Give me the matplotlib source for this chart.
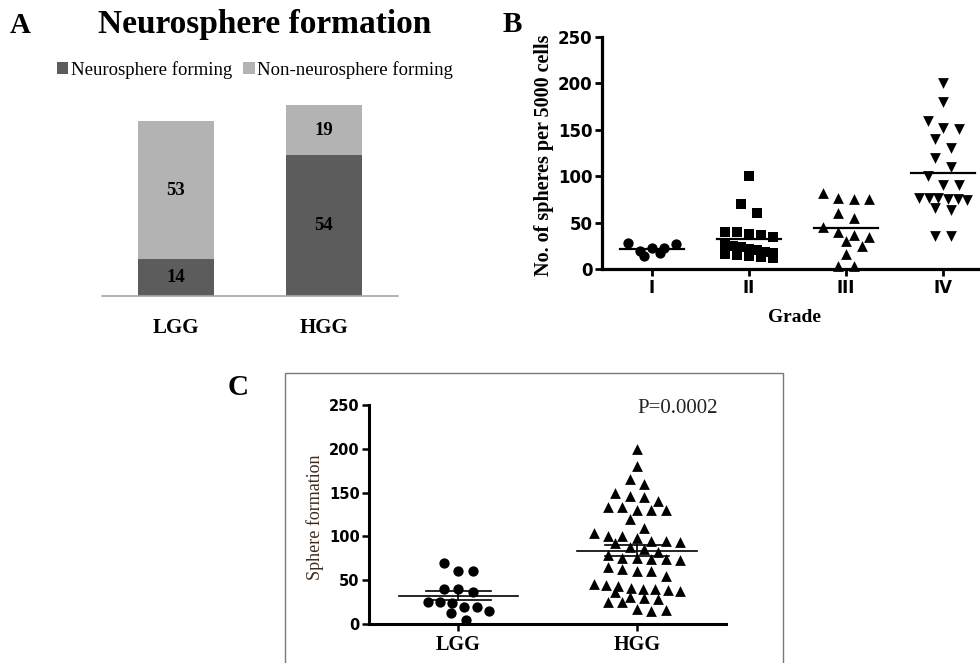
import numpy as np
import matplotlib
matplotlib.use("Agg")
import matplotlib.pyplot as plt
from matplotlib.patches import Rectangle

# ---- data ----
groups = ["LGG", "HGG"]
forming = [14, 54]
non_forming = [53, 19]

grade_labels = ["I", "II", "III", "IV"]
grade_i = [28, 19, 23, 14, 23, 17, 27]
grade_ii = [100, 70, 60, 40, 40, 38, 37, 35, 27, 25, 24, 22, 20, 18, 17, 16, 15, 14, 13, 12]
grade_iii = [82, 76, 75, 75, 60, 55, 45, 40, 37, 35, 30, 25, 16, 3, 3]
grade_iv = [200, 180, 160, 152, 151, 140, 130, 120, 110, 100, 90, 90,
            77, 76, 76, 75, 75, 74, 66, 64, 36, 36]

lgg_spheres = [70, 60, 60, 40, 40, 37, 25, 25, 24, 19, 19, 15, 12, 5]
hgg_spheres = [200, 180, 165, 160, 150, 146, 145, 140, 133, 133, 130, 130, 130, 120,
               110, 104, 100, 100, 98, 95, 95, 94, 92, 88, 86, 82, 79, 75, 75, 74,
               74, 73, 65, 63, 60, 60, 55, 46, 44, 43, 41, 40, 40, 39, 38, 37, 31,
               30, 29, 25, 25, 17, 15, 16]

SERIF = "Liberation Serif"
SANS = "DejaVu Sans"
W, H = 980, 663


def fx(x):
    return x / W


def fy(y):
    return 1 - y / H


def column_scatter(values, full, ppx, ppy, bin_px, maxw, rx, ry, max_row=8):
    """prism-like column scatter: values grouped in rows, rows shifted to avoid overlap"""
    vals = np.asarray(values, dtype=float)
    order = sorted(range(len(vals)), key=lambda k: -vals[k])
    rows = []
    for k in order:
        if rows and vals[rows[-1][0]] - vals[k] < bin_px / ppy and len(rows[-1]) < max_row:
            rows[-1].append(k)
        else:
            rows.append([k])
    offs = np.zeros(len(vals))
    placed = []
    for row in rows:
        row = sorted(row)
        n = len(row)
        sp = full if n == 1 else min(full, maxw / (n - 1))
        base = (np.arange(n) - (n - 1) / 2) * sp
        best = base
        for shift in [0, full / 2, -full / 2, full, -full, 1.5 * full, -1.5 * full]:
            xs = base + shift
            ok = all(((x - px) / rx) ** 2 + ((vals[j] * ppy - py) / ry) ** 2 >= 1
                     for x, j in zip(xs, row) for px, py in placed)
            if ok:
                best = xs
                break
        for x, j in zip(best, row):
            placed.append((x, vals[j] * ppy))
            offs[j] = x / ppx
    return offs


fig = plt.figure(figsize=(9.8, 6.63), dpi=100)

# ---------------- panel A ----------------
axA = fig.add_axes([fx(102), fy(296), fx(296), 196 / H])
xa = np.arange(len(groups))
b1 = axA.bar(xa, forming, width=0.51, color="#5c5c5c", label="Neurosphere forming")
b2 = axA.bar(xa, non_forming, width=0.51, bottom=forming, color="#b3b3b3",
             label="Non-neurosphere forming")
axA.bar_label(b1, label_type="center", fontfamily=SERIF, fontweight="bold", fontsize=13.5)
axA.bar_label(b2, label_type="center", fontfamily=SERIF, fontweight="bold", fontsize=13.5)
axA.set_xlim(-0.5, 1.5)
axA.set_ylim(0, 75.1)
axA.set_xticks(xa)
axA.set_xticklabels(groups, fontfamily=SERIF, fontweight="bold", fontsize=15)
axA.tick_params(axis="x", length=0, pad=16)
axA.set_yticks([])
for s in ["top", "right", "left"]:
    axA.spines[s].set_visible(False)
axA.spines["bottom"].set_color("#a6a6a6")
axA.spines["bottom"].set_linewidth(1.2)
axA.legend(loc="center", bbox_to_anchor=(0.517, 1.153), ncol=2, frameon=False,
           prop={"family": SERIF, "size": 13.5}, handlelength=0.6, handleheight=0.6,
           handletextpad=0.15, columnspacing=0.6, borderaxespad=0)
fig.text(fx(10), fy(33), "A", fontfamily=SERIF, fontweight="bold", fontsize=21)
fig.text(fx(265), fy(33), "Neurosphere formation", fontfamily=SERIF, fontweight="bold",
         fontsize=24, ha="center", va="baseline")

# ---------------- panel B ----------------
axB = fig.add_axes([fx(602), fy(269), fx(378), 232 / H])
ppx_b, ppy_b = 97, 232 / 250
markers_b = ["o", "s", "^", "v"]
sizes_b = [55, 50, 60, 60]
for i, (vals, m, sz) in enumerate(zip([grade_i, grade_ii, grade_iii, grade_iv], markers_b, sizes_b)):
    offs = column_scatter(vals, 15.6, ppx_b, ppy_b, 9.5, 48, 8.5, 9.5)
    axB.scatter(i + offs, vals, marker=m, s=sz, color="black", linewidths=0, clip_on=False, zorder=3)
    axB.plot([i - 0.33, i + 0.33], [np.mean(vals)] * 2, color="black", lw=1.6, zorder=4)
axB.set_xlim(-0.515, 3.38)
axB.set_ylim(0, 250)
axB.set_yticks([0, 50, 100, 150, 200, 250])
axB.set_xticks(range(4))
axB.set_xticklabels(grade_labels)
for s in ["top", "right"]:
    axB.spines[s].set_visible(False)
for s in ["left", "bottom"]:
    axB.spines[s].set_linewidth(2.3)
axB.tick_params(width=2.0, length=5, pad=2)
for lab in axB.get_xticklabels() + axB.get_yticklabels():
    lab.set_fontfamily(SANS)
    lab.set_fontweight("bold")
    lab.set_fontsize(12)
axB.set_ylabel("No. of spheres per 5000 cells", fontfamily=SERIF, fontweight="bold", fontsize=14.5)
axB.yaxis.set_label_coords(-0.128, 0.49)
axB.set_xlabel("Grade", fontfamily=SERIF, fontweight="bold", fontsize=14)
axB.xaxis.set_label_coords(0.51, -0.172)
fig.text(fx(503), fy(32), "B", fontfamily=SERIF, fontweight="bold", fontsize=21)

# ---------------- panel C ----------------
fig.patches.append(Rectangle((fx(285), -0.02), fx(783 - 285), 0.02 + 290 / H,
                             transform=fig.transFigure, fill=False, edgecolor="#7a7a7a", lw=1.0))
axC = fig.add_axes([fx(369.3), fy(624), fx(356.7), 219 / H])
ppx_c, ppy_c = 177.7, 219 / 250
for i, (vals, m, sz, mw) in enumerate(zip([lgg_spheres, hgg_spheres], ["o", "^"], [55, 60], [60, 86])):
    vals = np.asarray(vals, dtype=float)
    offs = column_scatter(vals, 14.3, ppx_c, ppy_c, 9, mw, 8.5, 9.5)
    axC.scatter(i + offs, vals, marker=m, s=sz, color="black", linewidths=0, clip_on=False, zorder=3)
    mean = vals.mean()
    sem = vals.std(ddof=1) / np.sqrt(len(vals))
    axC.plot([i - 0.335, i + 0.335], [mean] * 2, color="black", lw=1.2, zorder=4)
    axC.plot([i - 0.18, i + 0.18], [mean + sem] * 2, color="black", lw=1.2, zorder=4)
    axC.plot([i - 0.18, i + 0.18], [mean - sem] * 2, color="black", lw=1.2, zorder=4)
    axC.plot([i, i], [mean - sem, mean + sem], color="black", lw=1.2, zorder=4)
axC.set_xlim(-0.5, 1.5)
axC.set_ylim(0, 250)
axC.set_yticks([0, 50, 100, 150, 200, 250])
axC.set_xticks([0, 1])
axC.set_xticklabels(groups, fontfamily=SERIF, fontweight="bold", fontsize=14.5)
for s in ["top", "right"]:
    axC.spines[s].set_visible(False)
for s in ["left", "bottom"]:
    axC.spines[s].set_linewidth(2.2)
axC.tick_params(width=1.8, length=5)
axC.tick_params(axis="y", pad=2)
axC.tick_params(axis="x", pad=3)
for lab in axC.get_yticklabels():
    lab.set_fontfamily(SANS)
    lab.set_fontweight("bold")
    lab.set_fontsize(10.5)
axC.set_ylabel("Sphere formation", fontfamily=SERIF, fontsize=13, color="#3d2a1c")
axC.yaxis.set_label_coords(-0.128, 0.489)
axC.text(0.863, 0.986, "P=0.0002", transform=axC.transAxes, fontfamily=SERIF, fontsize=15,
         color="#222222", ha="center", va="center")
fig.text(fx(228), fy(395), "C", fontfamily=SERIF, fontweight="bold", fontsize=21)

fig.savefig("out.png", dpi=100)
